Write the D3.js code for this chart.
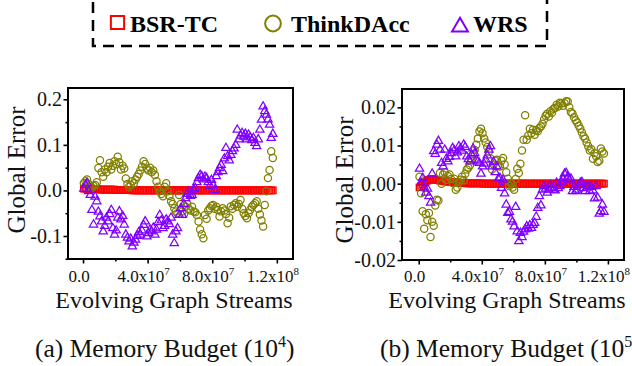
<!DOCTYPE html>
<html>
<head>
<meta charset="utf-8">
<script src="https://cdn.jsdelivr.net/npm/d3@7"></script>
<style>
  body { margin: 0; background: #fff; }
  svg { display: block; font-family: "Liberation Serif", "Times New Roman", serif; }
</style>
</head>
<body>
<svg id="chart" width="632" height="366"></svg>
<script>
// sample positions along the stream, in millions of edges
const streamPos = [
    0.5, 1.5, 2.5, 3.5, 4.5, 5.5, 6.5, 7.5, 8.5, 9.5,
    10.5, 11.5, 12.5, 13.5, 14.5, 15.5, 16.5, 17.5, 18.5, 19.5,
    20.5, 21.5, 22.5, 23.5, 24.5, 25.5, 26.5, 27.5, 28.5, 29.5,
    30.5, 31.5, 32.5, 33.5, 34.5, 35.5, 36.5, 37.5, 38.5, 39.5,
    40.5, 41.5, 42.5, 43.5, 44.5, 45.5, 46.5, 47.5, 48.5, 49.5,
    50.5, 51.5, 52.5, 53.5, 54.5, 55.5, 56.5, 57.5, 58.5, 59.5,
    60.5, 61.5, 62.5, 63.5, 64.5, 65.5, 66.5, 67.5, 68.5, 69.5,
    70.5, 71.5, 72.5, 73.5, 74.5, 75.5, 76.5, 77.5, 78.5, 79.5,
    80.5, 81.5, 82.5, 83.5, 84.5, 85.5, 86.5, 87.5, 88.5, 89.5,
    90.5, 91.5, 92.5, 93.5, 94.5, 95.5, 96.5, 97.5, 98.5, 99.5,
    100.5, 101.5, 102.5, 103.5, 104.5, 105.5, 106.5, 107.5, 108.5, 109.5,
    110.5, 111.5, 112.5, 113.5, 114.5, 115.5, 116.5, 117.5
];

const seriesNames = ["BSR-TC", "ThinkDAcc", "WRS"];

// (a) memory budget 10^4
const bsrA = [
    0.004, 0.004, 0.004, 0.004, 0.003, 0.003, 0.003, 0.003, 0.003, 0.003,
    0.002, 0.002, 0.002, 0.002, 0.002, 0.002, 0.002, 0.002, 0.002, 0.002,
    0.001, 0.001, 0.001, 0.001, 0.001, 0.001, 0.001, 0.001, 0.001, 0.001,
    0.000, 0.000, 0.000, 0.000, 0.000, 0.000, 0.000, 0.000, 0.000, 0.000,
    0.000, 0.000, 0.000, 0.000, 0.000, 0.000, 0.000, 0.000, 0.000, 0.000,
    0.000, 0.000, 0.000, 0.000, 0.000, 0.000, 0.000, 0.000, 0.000, 0.000,
    0.000, 0.000, 0.000, 0.000, 0.000, 0.000, 0.000, 0.000, 0.000, 0.000,
    0.000, 0.000, 0.000, 0.000, 0.000, 0.000, 0.000, 0.000, 0.000, 0.000,
    0.000, 0.000, 0.000, 0.000, 0.000, 0.000, 0.000, 0.000, 0.000, 0.000,
    0.000, 0.000, 0.000, 0.000, 0.000, 0.000, 0.000, 0.000, 0.000, 0.000,
    0.000, 0.000, 0.000, 0.000, 0.000, 0.000, 0.000, 0.000, 0.000, 0.000,
    0.000, 0.000, 0.000, 0.000, 0.000, 0.000, 0.000, 0.000
];
const thinkA = [
    0.016, 0.020, 0.024, 0.014, 0.008, 0.006, 0.010, 0.012, 0.018, 0.049,
    0.066, 0.040, 0.030, 0.046, 0.040, 0.052, 0.060, 0.046, 0.054, 0.064,
    0.058, 0.074, 0.062, 0.046, 0.054, 0.048, 0.026, 0.014, 0.008, 0.012,
    0.020, 0.016, 0.024, 0.030, 0.036, 0.044, 0.052, 0.064, 0.058, 0.048,
    0.044, 0.050, 0.040, 0.044, 0.034, 0.020, 0.008, -0.002, -0.008, -0.013,
    0.008, 0.016, -0.002, -0.012, -0.024, -0.030, -0.039, -0.046, -0.050, -0.010,
    -0.030, -0.046, -0.052, -0.036, -0.030, -0.040, -0.044, -0.036, -0.046, -0.048,
    -0.054, -0.068, -0.086, -0.096, -0.105, -0.054, -0.062, -0.044, -0.039, -0.034,
    -0.032, -0.040, -0.036, -0.043, -0.057, -0.046, -0.039, -0.044, -0.052, -0.072,
    -0.060, -0.035, -0.040, -0.032, -0.028, -0.036, -0.030, -0.021, -0.040, -0.050,
    -0.056, -0.061, -0.050, -0.043, -0.036, -0.032, -0.028, -0.024, -0.040, -0.053,
    -0.066, -0.079, -0.032, -0.002, 0.027, 0.045, 0.086, 0.071
];
const wrsA = [
    0.004, 0.012, 0.016, -0.002, -0.010, -0.043, -0.075, -0.014, -0.024, -0.047,
    -0.057, -0.068, -0.090, -0.078, -0.060, -0.068, -0.052, -0.043, -0.083, -0.097,
    -0.088, -0.060, -0.046, -0.064, -0.056, -0.075, -0.097, -0.104, -0.112, -0.106,
    -0.123, -0.115, -0.108, -0.100, -0.092, -0.097, -0.088, -0.076, -0.068, -0.101,
    -0.094, -0.086, -0.090, -0.082, -0.097, -0.086, -0.070, -0.054, -0.066, -0.083,
    -0.078, -0.064, -0.068, -0.074, -0.060, -0.097, -0.116, -0.090, -0.083, -0.054,
    -0.039, -0.054, -0.030, -0.017, -0.008, -0.002, -0.012, -0.010, 0.002, 0.005,
    0.018, 0.027, 0.034, 0.031, 0.024, 0.030, 0.027, 0.018, 0.010, 0.023,
    0.012, 0.001, 0.031, 0.040, 0.049, 0.056, 0.042, 0.070, 0.093, 0.075,
    0.066, 0.078, 0.086, 0.092, 0.100, 0.133, 0.112, 0.120, 0.126, 0.118,
    0.124, 0.112, 0.122, 0.116, 0.110, 0.115, 0.104, 0.097, 0.112, 0.133,
    0.155, 0.184, 0.174, 0.166, 0.156, 0.144, 0.115, 0.124
];

// (b) memory budget 10^5
const bsrB = [
    -0.0010, -0.0006, -0.0002, 0.0002, 0.0005, 0.0008, 0.0010, 0.0012, 0.0012, 0.0011,
    0.0010, 0.0010, 0.0009, 0.0008, 0.0008, 0.0007, 0.0006, 0.0006, 0.0005, 0.0005,
    0.0004, 0.0004, 0.0004, 0.0003, 0.0003, 0.0003, 0.0002, 0.0002, 0.0002, 0.0002,
    0.0001, 0.0001, 0.0001, 0.0001, 0.0001, 0.0001, 0.0001, 0.0001, 0.0001, 0.0001,
    0.0000, 0.0000, 0.0000, 0.0000, 0.0000, 0.0000, 0.0000, 0.0000, 0.0000, 0.0000,
    0.0000, 0.0000, 0.0000, 0.0000, 0.0000, 0.0000, 0.0000, 0.0000, 0.0000, 0.0000,
    0.0000, 0.0000, 0.0000, 0.0000, 0.0000, 0.0000, 0.0000, 0.0000, 0.0000, 0.0000,
    0.0000, 0.0000, 0.0000, 0.0000, 0.0000, 0.0000, 0.0000, 0.0000, 0.0000, 0.0000,
    0.0000, 0.0000, 0.0000, 0.0000, 0.0000, 0.0000, 0.0000, 0.0000, 0.0000, 0.0000,
    0.0000, 0.0000, 0.0000, 0.0000, 0.0000, 0.0000, 0.0000, 0.0000, 0.0000, 0.0000,
    0.0000, 0.0000, 0.0000, 0.0000, 0.0000, 0.0000, 0.0000, 0.0000, 0.0000, 0.0000,
    0.0000, 0.0000, 0.0000, 0.0000, 0.0000, 0.0000, 0.0000, 0.0000
];
const thinkB = [
    0.0018, -0.0025, -0.0072, -0.0118, -0.0080, -0.0096, -0.0077, -0.0140, -0.0100, -0.0110,
    -0.0057, -0.0042, -0.0044, 0.0028, 0.0000, 0.0024, 0.0030, 0.0010, 0.0020, 0.0024,
    0.0012, 0.0002, 0.0013, -0.0016, -0.0010, 0.0004, 0.0010, 0.0018, 0.0009, 0.0026,
    0.0037, 0.0042, 0.0048, 0.0064, 0.0074, 0.0088, 0.0102, 0.0118, 0.0137, 0.0144,
    0.0132, 0.0118, 0.0108, 0.0096, 0.0084, 0.0066, 0.0037, 0.0050, 0.0060, 0.0063,
    0.0048, 0.0045, 0.0060, 0.0067, 0.0050, 0.0030, 0.0013, -0.0006, 0.0002, -0.0010,
    -0.0016, 0.0012, 0.0039, 0.0028, 0.0052, 0.0087, 0.0115, 0.0179, 0.0115, 0.0126,
    0.0144, 0.0132, 0.0141, 0.0128, 0.0140, 0.0137, 0.0146, 0.0150, 0.0157, 0.0168,
    0.0178, 0.0183, 0.0176, 0.0190, 0.0186, 0.0196, 0.0198, 0.0207, 0.0202, 0.0212,
    0.0210, 0.0204, 0.0211, 0.0216, 0.0215, 0.0200, 0.0188, 0.0184, 0.0174, 0.0166,
    0.0160, 0.0152, 0.0144, 0.0134, 0.0124, 0.0118, 0.0108, 0.0098, 0.0087, 0.0090,
    0.0065, 0.0080, 0.0072, 0.0057, 0.0060, 0.0092, 0.0084, 0.0079
];
const wrsB = [
    0.0039, 0.0002, 0.0015, -0.0010, -0.0024, -0.0013, -0.0033, -0.0050, 0.0026, 0.0085,
    0.0078, 0.0102, 0.0112, 0.0089, 0.0054, 0.0045, 0.0089, 0.0065, 0.0058, 0.0070,
    0.0080, 0.0093, 0.0087, 0.0071, 0.0082, 0.0098, 0.0092, 0.0086, 0.0102, 0.0096,
    0.0071, 0.0064, 0.0058, 0.0076, 0.0092, 0.0080, 0.0063, 0.0058, 0.0054, 0.0026,
    0.0045, 0.0052, 0.0063, 0.0074, 0.0089, 0.0098, 0.0045, 0.0057, 0.0030, 0.0045,
    0.0013, 0.0015, -0.0011, 0.0010, -0.0026, -0.0055, -0.0077, -0.0074, -0.0094, -0.0100,
    -0.0112, -0.0061, -0.0125, -0.0151, -0.0129, -0.0140, -0.0126, -0.0120, -0.0112, -0.0118,
    -0.0109, -0.0116, -0.0108, -0.0103, -0.0087, -0.0064, -0.0033, -0.0057, -0.0016, -0.0007,
    -0.0013, -0.0024, -0.0016, -0.0004, -0.0011, -0.0016, -0.0018, 0.0002, -0.0012, -0.0007,
    0.0004, 0.0015, 0.0026, 0.0028, 0.0018, 0.0010, 0.0013, -0.0020, -0.0009, -0.0020,
    -0.0016, -0.0004, 0.0002, 0.0004, -0.0012, -0.0020, -0.0010, -0.0007, -0.0020, -0.0009,
    -0.0018, -0.0039, -0.0007, -0.0037, -0.0079, -0.0072, -0.0055, -0.0074
];

const xTicks = [0, 4e7, 8e7, 1.2e8];
const xMinor = [2e7, 6e7, 1e8];
const xTickBase = ["0.0", "4.0x10", "8.0x10", "1.2x10"];
const xTickExp = ["", "7", "7", "8"];

const yTicksA = [-0.1, 0, 0.1, 0.2];
const yLabelsA = ["-0.1", "0.0", "0.1", "0.2"];
const yMinorA = [-0.15, -0.05, 0.05, 0.15];

const yTicksB = [-0.02, -0.01, 0, 0.01, 0.02];
const yLabelsB = ["-0.02", "-0.01", "0.00", "0.01", "0.02"];
const yMinorB = [-0.015, -0.005, 0.005, 0.015];

const COLORS = { "BSR-TC": "#ff0000", "ThinkDAcc": "#808000", "WRS": "#8000ff" };
const SHAPES = { "BSR-TC": d3.symbolSquare, "ThinkDAcc": d3.symbolCircle, "WRS": d3.symbolTriangle };
const SIZES = { "BSR-TC": 40, "ThinkDAcc": 41, "WRS": 30 };
const STROKES = { "BSR-TC": 1.4, "ThinkDAcc": 1.25, "WRS": 1.25 };

const panels = [
    {
        series: [bsrA, thinkA, wrsA],
        yTicks: yTicksA, yLabels: yLabelsA, yMinor: yMinorA,
        xDomain: [-0.93e7, 1.30e8], yDomain: [-0.1505, 0.2248],
        left: 68, right: 293, top: 88, bottom: 259,
        yTitle: [25, 170], xTitle: [174, 308],
        caption: "(a) Memory Budget (10", capExp: "4", capX: 35, capClose: ")"
    },
    {
        series: [bsrB, thinkB, wrsB],
        yTicks: yTicksB, yLabels: yLabelsB, yMinor: yMinorB,
        xDomain: [-1.06e7, 1.302e8], yDomain: [-0.02, 0.0248],
        left: 402, right: 624, top: 89, bottom: 260,
        yTitle: [353, 180], xTitle: [507, 308],
        caption: "(b) Memory Budget (10", capExp: "5", capX: 380, capClose: ")"
    }
];

const svg = d3.select("#chart");

function drawPanel(p) {
    const x = d3.scaleLinear().domain(p.xDomain).range([p.left, p.right]);
    const y = d3.scaleLinear().domain(p.yDomain).range([p.bottom, p.top]);
    const g = svg.append("g");

    // markers, drawn in legend order
    seriesNames.forEach((name, si) => {
        const pts = d3.zip(streamPos, p.series[si]);
        const sym = d3.symbol().type(SHAPES[name]).size(SIZES[name]);
        g.append("g")
            .selectAll("path")
            .data(pts)
            .join("path")
            .attr("transform", d => `translate(${x(d[0] * 1e6)},${y(d[1])})`)
            .attr("d", sym)
            .attr("fill", "none")
            .attr("stroke", COLORS[name])
            .attr("stroke-width", STROKES[name]);
    });

    // y axis
    const yAx = g.append("g").attr("transform", `translate(${p.left},0)`)
        .call(d3.axisLeft(y).tickValues(p.yTicks).tickSize(4.5).tickPadding(1.5)
            .tickFormat((d, i) => p.yLabels[i]));
    g.append("g").attr("transform", `translate(${p.left},0)`)
        .call(d3.axisLeft(y).tickValues(p.yMinor).tickSize(2.5).tickFormat(""));

    // x axis
    g.append("g").attr("transform", `translate(0,${p.bottom})`)
        .call(d3.axisBottom(x).tickValues(xTicks).tickSize(4.5).tickFormat(""));
    g.append("g").attr("transform", `translate(0,${p.bottom})`)
        .call(d3.axisBottom(x).tickValues(xMinor).tickSize(2.5).tickFormat(""));

    g.selectAll(".domain").remove();
    g.selectAll(".tick line").attr("stroke", "#000").attr("stroke-width", 1.6);
    yAx.selectAll("text")
        .attr("font-size", 20)
        .attr("font-family", "Liberation Serif")
        .attr("fill", "#111");

    const xl = g.append("g");
    xTicks.forEach((t, i) => {
        const txt = xl.append("text")
            .attr("x", x(t) - 4)
            .attr("y", 282)
            .attr("text-anchor", "middle")
            .attr("font-size", 17)
            .attr("fill", "#111");
        txt.append("tspan").text(xTickBase[i]);
        if (xTickExp[i]) {
            txt.append("tspan").attr("font-size", 11).attr("dy", -7).text(xTickExp[i]);
        }
    });

    // frame
    g.append("rect")
        .attr("x", p.left).attr("y", p.top)
        .attr("width", p.right - p.left).attr("height", p.bottom - p.top)
        .attr("fill", "none").attr("stroke", "#000").attr("stroke-width", 2);

    // titles
    g.append("text")
        .attr("transform", `translate(${p.yTitle[0]},${p.yTitle[1]}) rotate(-90)`)
        .attr("text-anchor", "middle")
        .attr("font-size", 25)
        .attr("fill", "#111")
        .text("Global Error");
    g.append("text")
        .attr("x", p.xTitle[0]).attr("y", p.xTitle[1])
        .attr("text-anchor", "middle")
        .attr("font-size", 24)
        .attr("fill", "#111")
        .text("Evolving Graph Streams");

    // the (b) caption runs past the right edge, as in the original figure
    const cap = g.append("text")
        .attr("x", p.capX).attr("y", 357)
        .attr("font-size", 25.5)
        .attr("fill", "#111");
    cap.append("tspan").text(p.caption);
    cap.append("tspan").attr("font-size", 16).attr("dy", -10).text(p.capExp);
    cap.append("tspan").attr("dy", 10).text(p.capClose);
}

panels.forEach(drawPanel);

// legend
const legend = svg.append("g");
legend.append("rect")
    .attr("x", 93).attr("y", -3).attr("width", 454).attr("height", 49)
    .attr("fill", "none").attr("stroke", "#000")
    .attr("stroke-width", 2.5).attr("stroke-dasharray", "11,7");

const legendItems = [
    { name: "BSR-TC", mx: 117.5, my: 22.5, tx: 130, size: 175 },
    { name: "ThinkDAcc", mx: 273, my: 23.5, tx: 291, size: 195 },
    { name: "WRS", mx: 460, my: 27, tx: 473, size: 110 }
];
legendItems.forEach(it => {
    legend.append("path")
        .attr("transform", `translate(${it.mx},${it.my})`)
        .attr("d", d3.symbol().type(SHAPES[it.name]).size(it.size))
        .attr("fill", "none")
        .attr("stroke", COLORS[it.name])
        .attr("stroke-width", 2);
    legend.append("text")
        .attr("x", it.tx).attr("y", 31.5)
        .attr("font-size", 24)
        .attr("font-weight", "bold")
        .attr("fill", "#000")
        .text(it.name);
});
</script>
</body>
</html>
